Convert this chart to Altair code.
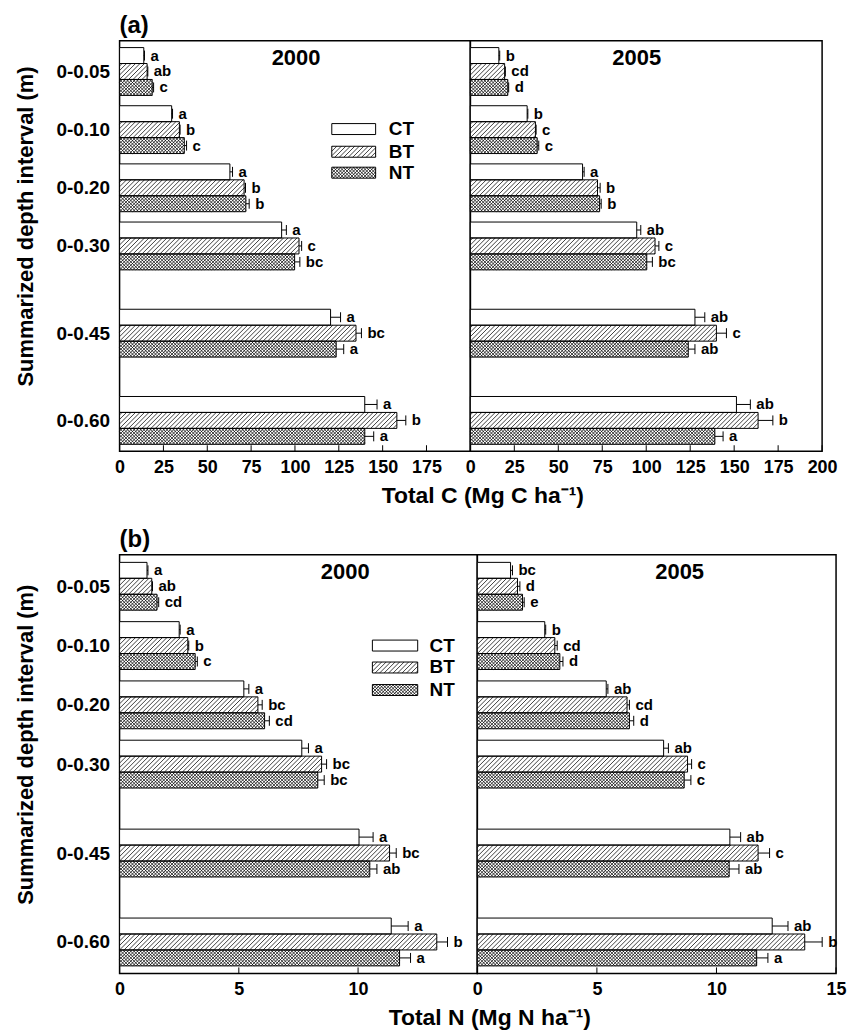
import math
import altair as alt
import pandas as pd

FONT = "Liberation Sans"

depth_labels = ["0-0.05", "0-0.10", "0-0.20", "0-0.30", "0-0.45", "0-0.60"]
depth_pos = [0.0, 0.1, 0.2, 0.3, 0.45, 0.6]
treatments = ["CT", "BT", "NT"]

# ---- Total C (Mg C ha-1) ----
c2000 = {"CT": [13.8, 29.7, 62.9, 92.4, 120.3, 139.8],
         "BT": [15.7, 34.1, 71.0, 102.3, 134.8, 158.1],
         "NT": [18.6, 36.9, 72.0, 99.8, 123.5, 139.8]}
c2000_se = {"CT": [0.4, 0.5, 1.5, 2.7, 5.7, 7.0],
            "BT": [0.4, 0.4, 0.8, 1.5, 3.1, 5.1],
            "NT": [0.8, 1.3, 1.9, 3.0, 4.3, 5.1]}
c2000_let = {"CT": ["a", "a", "a", "a", "a", "a"],
             "BT": ["ab", "b", "b", "c", "bc", "b"],
             "NT": ["c", "c", "b", "bc", "a", "a"]}

c2005 = {"CT": [16.2, 32.3, 63.8, 94.6, 127.7, 151.3],
         "BT": [19.5, 37.0, 72.3, 105.0, 139.9, 163.6],
         "NT": [21.3, 38.0, 73.5, 100.3, 123.9, 139.0]}
c2005_se = {"CT": [0.5, 0.4, 0.9, 2.3, 5.6, 7.9],
            "BT": [0.4, 0.4, 1.5, 2.2, 5.7, 8.4],
            "NT": [0.5, 0.9, 0.9, 3.2, 3.8, 4.7]}
c2005_let = {"CT": ["b", "b", "a", "ab", "ab", "ab"],
             "BT": ["cd", "c", "b", "c", "c", "b"],
             "NT": ["d", "c", "b", "bc", "ab", "a"]}

# ---- Total N (Mg N ha-1) ----
n2000 = {"CT": [1.15, 2.50, 5.21, 7.64, 10.04, 11.39],
         "BT": [1.35, 2.86, 5.80, 8.47, 11.32, 13.30],
         "NT": [1.57, 3.17, 6.08, 8.31, 10.49, 11.74]}
n2000_se = {"CT": [0.04, 0.04, 0.21, 0.28, 0.59, 0.71],
            "BT": [0.03, 0.04, 0.18, 0.21, 0.28, 0.45],
            "NT": [0.07, 0.09, 0.20, 0.27, 0.30, 0.46]}
n2000_let = {"CT": ["a", "a", "a", "a", "a", "a"],
             "BT": ["ab", "b", "bc", "bc", "bc", "b"],
             "NT": ["cd", "c", "cd", "bc", "ab", "a"]}

n2005 = {"CT": [1.39, 2.82, 5.39, 7.79, 10.56, 12.33],
         "BT": [1.68, 3.24, 6.26, 8.79, 11.74, 13.69],
         "NT": [1.89, 3.45, 6.36, 8.65, 10.53, 11.68]}
n2005_se = {"CT": [0.08, 0.04, 0.07, 0.20, 0.45, 0.66],
            "BT": [0.10, 0.10, 0.10, 0.17, 0.48, 0.73],
            "NT": [0.07, 0.13, 0.18, 0.28, 0.41, 0.47]}
n2005_let = {"CT": ["bc", "b", "ab", "ab", "ab", "ab"],
             "BT": ["d", "cd", "cd", "c", "c", "b"],
             "NT": ["e", "d", "d", "c", "ab", "a"]}

YDOM = [-0.053, 0.653]
HATCH = {"CT": [], "BT": [("/", 4.5)], "NT": [("/", 3.3), ("\\", 3.3)]}


def hatch_segments(x0u, x1u, y0u, y1u, kx, ky, spacing, direction):
    X0, X1 = x0u * kx, x1u * kx
    H = (y1u - y0u) * ky
    segs = []
    X = math.floor((X0 - H) / spacing) * spacing
    while X < X1:
        tmin = max(0.0, (X0 - X) / H)
        tmax = min(1.0, (X1 - X) / H)
        if tmax > tmin + 1e-6:
            xa, xb = (X + tmin * H) / kx, (X + tmax * H) / kx
            if direction == "/":
                ya, yb = y1u - tmin * (y1u - y0u), y1u - tmax * (y1u - y0u)
            else:
                ya, yb = y0u + tmin * (y1u - y0u), y0u + tmax * (y1u - y0u)
            segs.append({"hx": xa, "hy": ya, "hx2": xb, "hy2": yb})
        X += spacing
    return segs


label_expr = "''"
for lab, p in reversed(list(zip(depth_labels, depth_pos))):
    label_expr = f"abs(datum.value - {p}) < 0.01 ? '{lab}' : ({label_expr})"


def make_panel(vals, ses, lets, year, xmax, width, height, xticks, left,
               xtitle, year_xy, legend=None):
    kx = width / xmax
    ky = height / (YDOM[1] - YDOM[0])
    bh = 16 / ky
    cap = 5 / ky
    rows, hatch = [], []
    for i, (lab, p) in enumerate(zip(depth_labels, depth_pos)):
        for j, t in enumerate(treatments):
            c = p + (j - 1) * bh
            v, s = vals[t][i], ses[t][i]
            rows.append(dict(depth=lab, trt=t, v=v, x0=0.0, xe=v + s,
                             yc=c, y0=c - bh / 2, y1=c + bh / 2,
                             c0=c - cap, c1=c + cap, let=lets[t][i]))
            for d, sp in HATCH[t]:
                hatch += hatch_segments(0.0, v, c - bh / 2, c + bh / 2, kx, ky, sp, d)
    bars = pd.DataFrame(rows)

    xs = alt.Scale(domain=[0, xmax], nice=False, zero=True)
    ys = alt.Scale(domain=YDOM, reverse=True, nice=False, zero=False)

    xaxis_kw = dict(values=xticks, ticks=False, domain=False, grid=False,
                    labelPadding=7, labelFontSize=18, labelOverlap=False,
                    labelFlush=False)
    if left:
        xaxis_kw.update(title=xtitle, titleX=width + 12, titleAlign="center",
                        titlePadding=8, titleFontSize=23)
    else:
        xaxis_kw.update(title=None)
    xaxis = alt.Axis(**xaxis_kw)
    if left:
        yaxis = alt.Axis(values=depth_pos, labelExpr=label_expr, ticks=False,
                         domain=False, grid=False, labelPadding=10,
                         labelFontSize=19, title="Summarized depth interval (m)",
                         titleFontSize=22, titlePadding=19,
                         titleY=height / 2 - 20)
    else:
        yaxis = None

    def X(f):
        return alt.X(f, type="quantitative", scale=xs, axis=xaxis)

    def Y(f):
        return alt.Y(f, type="quantitative", scale=ys, axis=yaxis)

    layers = []
    layers.append(alt.Chart(bars).mark_rect(fill="white", strokeWidth=0).encode(
        x=X("x0"), x2="v", y=Y("y0"), y2="y1"))
    if hatch:
        layers.append(alt.Chart(pd.DataFrame(hatch)).mark_rule(
            color="black", strokeWidth=0.75).encode(
            x=X("hx"), y=Y("hy"), x2="hx2", y2="hy2"))
    layers.append(alt.Chart(bars).mark_rect(fill="transparent", stroke="black",
                                            strokeWidth=1).encode(
        x=X("x0"), x2="v", y=Y("y0"), y2="y1"))
    layers.append(alt.Chart(bars).mark_rule(color="black", strokeWidth=1).encode(
        x=X("v"), x2="xe", y=Y("yc")))
    layers.append(alt.Chart(bars).mark_rule(color="black", strokeWidth=1).encode(
        x=X("xe"), y=Y("c0"), y2="c1"))
    layers.append(alt.Chart(bars).mark_text(
        align="left", baseline="middle", dx=6, fontSize=15, fontWeight="bold",
        font=FONT, color="black").encode(x=X("xe"), y=Y("yc"), text="let:N"))
    layers.append(alt.Chart(pd.DataFrame({"yx": [year_xy[0]], "yy": [year_xy[1]],
                                          "t": [year]})).mark_text(
        align="center", baseline="middle", fontSize=22, fontWeight="bold",
        font=FONT, color="black").encode(x=X("yx"), y=Y("yy"), text="t:N"))
    layers.append(alt.Chart(pd.DataFrame({"tk": xticks})).mark_rule(
        color="black", strokeWidth=1).encode(
        x=X("tk"), y=alt.value(height), y2=alt.value(height - 6)))

    if legend is not None:
        lx0, lx1, lyc, ltx = legend
        lh = 11 / ky
        lrows, lhatch = [], []
        for t, c in zip(treatments, lyc):
            lrows.append(dict(trt=t, lx0=lx0, lx1=lx1, ly0=c - lh / 2,
                              ly1=c + lh / 2, lyc=c, ltx=ltx))
            for d, sp in HATCH[t]:
                lhatch += hatch_segments(lx0, lx1, c - lh / 2, c + lh / 2, kx, ky, sp, d)
        leg = pd.DataFrame(lrows)
        layers.append(alt.Chart(leg).mark_rect(fill="white", strokeWidth=0).encode(
            x=X("lx0"), x2="lx1", y=Y("ly0"), y2="ly1"))
        layers.append(alt.Chart(pd.DataFrame(lhatch)).mark_rule(
            color="black", strokeWidth=0.75).encode(
            x=X("hx"), y=Y("hy"), x2="hx2", y2="hy2"))
        layers.append(alt.Chart(leg).mark_rect(fill="transparent", stroke="black",
                                               strokeWidth=1).encode(
            x=X("lx0"), x2="lx1", y=Y("ly0"), y2="ly1"))
        layers.append(alt.Chart(leg).mark_text(
            align="left", baseline="middle", fontSize=19, fontWeight="bold",
            font=FONT, color="black").encode(x=X("ltx"), y=Y("lyc"), text="trt:N"))

    return alt.layer(*layers).properties(width=width, height=height)


xt_c = "Total C (Mg C ha\u207b\u00b9)"
xt_n = "Total N (Mg N ha\u207b\u00b9)"

pa1 = make_panel(c2000, c2000_se, c2000_let, "2000", 200, 352, 412,
                 [0, 25, 50, 75, 100, 125, 150, 175], True, xt_c, (100.6, -0.024),
                 legend=(121, 146, [0.099, 0.138, 0.174], 153.5))
pa2 = make_panel(c2005, c2005_se, c2005_let, "2005", 200, 353, 412,
                 [0, 25, 50, 75, 100, 125, 150, 175, 200], False, xt_c, (94.6, -0.024))
pb1 = make_panel(n2000, n2000_se, n2000_let, "2000", 15, 359, 420,
                 [0, 5, 10], True, xt_n, (9.46, -0.024),
                 legend=(10.6, 12.5, [0.100, 0.137, 0.175], 13.0))
pb2 = make_panel(n2005, n2005_se, n2005_let, "2005", 15, 360, 420,
                 [0, 5, 10, 15], False, xt_n, (8.46, -0.024))

row_a = alt.hconcat(pa1, pa2, spacing=0, bounds="flush").properties(
    title=alt.TitleParams("(a)", anchor="start", frame="group", fontSize=24,
                          fontWeight="bold", font=FONT, color="black", offset=2))
row_b = alt.hconcat(pb1, pb2, spacing=0, bounds="flush").properties(
    title=alt.TitleParams("(b)", anchor="start", frame="group", fontSize=24,
                          fontWeight="bold", font=FONT, color="black", offset=2))

chart = alt.vconcat(row_a, row_b, spacing=20).properties(
    background="white",
    padding={"left": 13, "top": 12, "right": 5, "bottom": 0}).configure_view(
    stroke="black", strokeWidth=1.5).configure_axis(
    labelFont=FONT, titleFont=FONT, labelFontWeight="bold",
    titleFontWeight="bold", labelColor="black", titleColor="black")

chart.save("out.html", embed_options={"renderer": "svg", "actions": False})
